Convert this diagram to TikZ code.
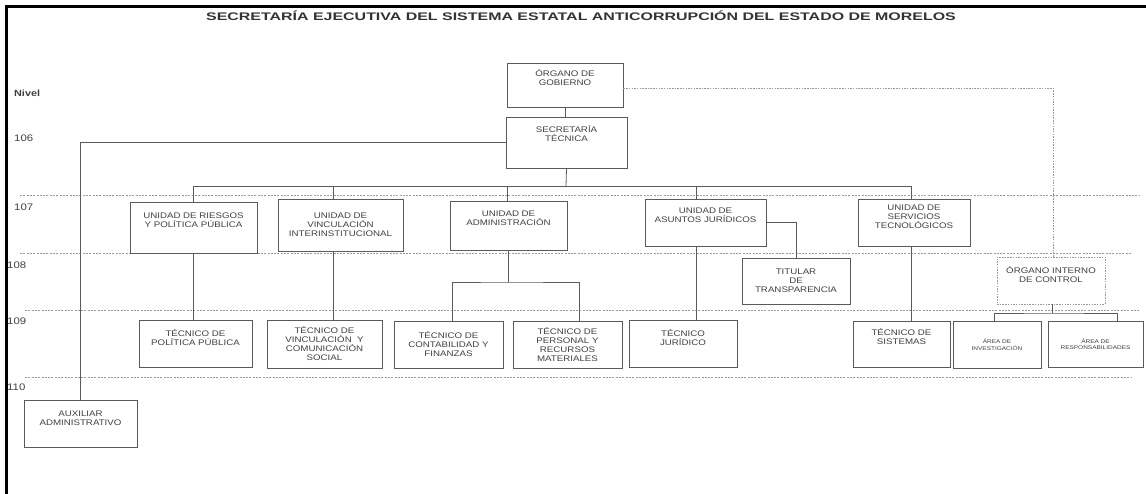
\documentclass[tikz,border=0pt]{standalone}
\usepackage{fontspec}
\setmainfont{Liberation Sans}
\newfontfamily\boxfont[FakeStretch=1.2]{Liberation Sans}
\newfontfamily\titlefont[FakeStretch=1.45]{Liberation Sans}
\usetikzlibrary{calc}
\definecolor{ln}{HTML}{5A5A5A}
\definecolor{tx}{HTML}{404040}
\definecolor{lv}{HTML}{9A9A9A}
\tikzset{
  box/.style={draw=ln, line width=0.9pt, align=center, inner sep=1pt, text=tx,
    font=\boxfont\fontsize{8.1}{9}\selectfont},
  tinybox/.style={box, font=\boxfont\fontsize{5.4}{6.5}\selectfont},
  dbox/.style={box, draw=lv, dash pattern=on 1.5pt off 1.2pt},
  conn/.style={draw=ln, line width=0.8pt},
  dconn/.style={draw=lv, line width=0.9pt, dash pattern=on 1.5pt off 1.2pt},
  lvline/.style={draw=lv, line width=0.8pt, dash pattern=on 2pt off 1.3pt},
  lvlabel/.style={anchor=west, inner sep=0pt, text=tx, font=\boxfont\fontsize{9.5}{11}\selectfont},
}
\begin{document}
\begin{tikzpicture}[x=1pt,y=-1pt]
\useasboundingbox (0,0) rectangle (1146,494);
% frame
\draw[line width=3pt, black] (6.5,494) -- (6.5,6.5) -- (1146,6.5);
% title
\node[inner sep=0pt, text=black!80, font=\titlefont\bfseries\fontsize{11}{12}\selectfont] (title) at (581,15.5) {SECRETARÍA EJECUTIVA DEL SISTEMA ESTATAL ANTICORRUPCIÓN DEL ESTADO DE MORELOS};
% level lines
\draw[lvline] (20,195) -- (1140,195);
\draw[lvline] (20,253) -- (1132,253);
\draw[lvline] (25,310) -- (1140,310);
\draw[lvline] (25,377) -- (1132,377);
% level labels
\node[lvlabel, font=\boxfont\bfseries\fontsize{9}{11}\selectfont] (niv) at (14,93) {Nivel};
\node[lvlabel] (l106) at (14,138) {106};
\node[lvlabel] (l107) at (14,207) {107};
\node[lvlabel] (l108) at (7,265) {108};
\node[lvlabel] (l109) at (7,321) {109};
\node[lvlabel] (l110) at (7,387) {110};
% boxes
\node[box, minimum width=116pt, minimum height=44pt] (og) at (565,85) {ÓRGANO DE\\GOBIERNO\\[6pt]};
\node[box, minimum width=121pt, minimum height=51pt] (st) at (566.5,142.5) {SECRETARÍA\\TÉCNICA\\[10pt]};
\node[box, minimum width=113pt, minimum height=47pt] (aux) at (80.5,423.5) {AUXILIAR\\ADMINISTRATIVO\\[2pt]};
\node[box, minimum width=127pt, minimum height=51pt] (rie) at (193.5,227.5) {UNIDAD DE RIESGOS\\Y POLÍTICA PÚBLICA\\[6pt]};
\node[box, minimum width=125pt, minimum height=52pt] (vin) at (340.5,225) {UNIDAD DE\\VINCULACIÓN\\INTERINSTITUCIONAL};
\node[box, minimum width=117pt, minimum height=49pt] (adm) at (508.5,225.5) {UNIDAD DE\\ADMINISTRACIÓN\\[6pt]};
\node[box, minimum width=121pt, minimum height=47pt] (aju) at (705.5,222.5) {UNIDAD DE\\ASUNTOS JURÍDICOS\\[6pt]};
\node[box, minimum width=112pt, minimum height=47pt] (ser) at (914,222.5) {UNIDAD DE\\SERVICIOS\\TECNOLÓGICOS\\[2pt]};
\node[box, minimum width=108pt, minimum height=46pt] (tit) at (796,281) {TITULAR\\DE\\TRANSPARENCIA};
\node[dbox, minimum width=108pt, minimum height=47pt] (oic) at (1051,280.5) {ÓRGANO INTERNO\\DE CONTROL\\[4pt]};
\node[box, minimum width=113pt, minimum height=47pt] (tpp) at (195.5,343.5) {TÉCNICO DE\\POLÍTICA PÚBLICA\\[4pt]};
\node[box, minimum width=115pt, minimum height=48pt] (tvc) at (324.5,344) {TÉCNICO DE\\VINCULACIÓN \ Y\\COMUNICACIÓN\\SOCIAL};
\node[box, minimum width=109pt, minimum height=47pt] (tcf) at (448.5,344.5) {TÉCNICO DE\\CONTABILIDAD Y\\FINANZAS};
\node[box, minimum width=109pt, minimum height=47pt] (tpr) at (567.5,344.5) {TÉCNICO DE\\PERSONAL Y\\RECURSOS\\MATERIALES};
\node[box, minimum width=108pt, minimum height=47pt] (tju) at (683,343.5) {TÉCNICO\\JURÍDICO\\[4pt]};
\node[box, minimum width=97pt, minimum height=46pt] (tsi) at (901.5,344) {TÉCNICO DE\\SISTEMAS\\[6pt]};
\node[tinybox, minimum width=88pt, minimum height=47pt] (ain) at (997,344.5) {ÁREA DE\\INVESTIGACIÓN};
\node[tinybox, minimum width=95pt, minimum height=46pt] (are) at (1095.5,344) {ÁREA DE\\RESPONSABILIDADES};
% junction coordinates
\coordinate (bus) at (566,186);
\coordinate (admj) at (508,282);
\coordinate (oicj) at (1052,313);
% connectors
\draw[conn] (og.south) -- (og.south |- st.north);
\draw[conn] (st.west) -| (aux.north);
\draw[conn] (st.south) -- (bus);
\draw[conn] (rie.north |- bus) -- ([xshift=-3pt]ser.north |- bus);
\draw[conn] (rie.north |- bus) -- (rie.north);
\draw[conn] ([xshift=-7.5pt]vin.north |- bus) -- ([xshift=-7.5pt]vin.north);
\draw[conn] ([xshift=-1.5pt]adm.north |- bus) -- ([xshift=-1.5pt]adm.north);
\draw[conn] ([xshift=-9pt]aju.north |- bus) -- ([xshift=-9pt]aju.north);
\draw[conn] ([xshift=-3pt]ser.north |- bus) -- ([xshift=-3pt]ser.north);
\draw[conn] (rie.south) -- (rie.south |- tpp.north);
\draw[conn] ([xshift=-7.5pt]vin.south) -- ([xshift=-7.5pt]vin.south |- tvc.north);
\draw[conn] ([xshift=-0.5pt]adm.south) -- (admj);
\draw[conn] ([xshift=3.5pt]tcf.north) |- (admj) -| ([xshift=11.5pt]tpr.north);
\draw[conn] ([xshift=-9pt]aju.south) -- ([xshift=-9pt]aju.south |- tju.north);
\draw[conn] (aju.east) -| (tit.north);
\draw[conn] ([xshift=-2.5pt]ser.south) -- ([xshift=-2.5pt]ser.south |- tsi.north);
\draw[dconn] ([yshift=-3pt]og.east) -| ([xshift=2pt]oic.north);
\draw[conn] ([xshift=1pt]oic.south) -- (oicj);
\draw[conn] ([xshift=-3pt]ain.north) |- (oicj) -| ([xshift=21.5pt]are.north);
\end{tikzpicture}
\end{document}
